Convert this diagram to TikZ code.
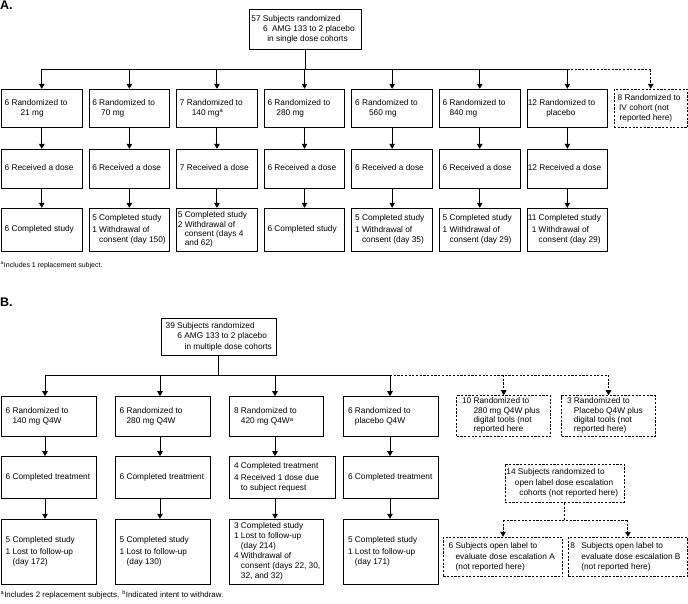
\documentclass[tikz,border=0pt]{standalone}
\usepackage{fontspec}
\setmainfont{Liberation Sans}
\usetikzlibrary{arrows.meta,fit}
\newcommand\mkbox[6]{\node[#2, fit={(#3,#4) (#5,#6)}] (#1) {};}
\newcommand\mktxt[3][3.5]{\node[txt] at ([xshift=#1pt]#2.west) {#3};}
\newcommand\mkttxt[3][3.5]{\node[txtt] at ([xshift=#1pt]#2.west) {#3};}
\newcommand\sa{\textsuperscript{a}}
\newcommand\tb[1]{\begin{tabular}{@{}r@{\ }l@{}}#1\end{tabular}}
\newcommand\tl[1]{\begin{tabular}{@{}l@{}}#1\end{tabular}}
\begin{document}
\begin{tikzpicture}[x=1pt,y=-1pt,
  bx/.style={draw, line width=1pt, inner sep=0pt},
  dbx/.style={bx, dash pattern=on 2.2pt off 1.5pt},
  txt/.style={anchor=west, inner sep=0pt, font=\fontsize{8.3}{10.3}\selectfont, align=left},
  txtt/.style={txt, font=\fontsize{8.3}{9.3}\selectfont},
  ln/.style={line width=1pt},
  dln/.style={ln, dash pattern=on 2.2pt off 1.5pt},
  arr/.style={ln, -{Triangle[width=5.5pt,length=5pt]}},
  darr/.style={dln, -{Triangle[width=5.5pt,length=5pt]}},
  lab/.style={anchor=north west, inner sep=0pt, font=\fontsize{12.5}{14}\selectfont\bfseries},
  fn/.style={anchor=west, inner sep=0pt, font=\fontsize{7}{9}\selectfont},
  fnb/.style={fn, font=\fontsize{7.9}{9}\selectfont}]
\useasboundingbox (0,0) rectangle (688,603);

% ---------------- Panel A ----------------
\node[lab] (labA) at (0,1) {A.};
\mkbox{at}{bx}{249}{9.3}{361}{49.3}
\mktxt[2.7]{at}{\tl{57 Subjects randomized\\ \hspace{11.6pt}6\hspace{4.5pt}AMG 133 to 2 placebo\\ \hspace{16pt}in single dose cohorts}}

% row 1
\mkbox{ra1}{bx}{1.5}{89.3}{82}{127.7}
\mkbox{ra2}{bx}{89.1}{89.3}{169.6}{127.7}
\mkbox{ra3}{bx}{176.7}{89.3}{257.2}{127.7}
\mkbox{ra4}{bx}{264.3}{89.3}{344.8}{127.7}
\mkbox{ra5}{bx}{351.9}{89.3}{432.4}{127.7}
\mkbox{ra6}{bx}{439.5}{89.3}{520}{127.7}
\mkbox{ra7}{bx}{527.1}{89.3}{607.6}{127.7}
\mkbox{iv}{dbx}{614}{89.3}{687.5}{127.7}
\mktxt{ra1}{\tb{6&Randomized to\\&\hspace{9pt}21 mg}}
\mktxt{ra2}{\tb{6&Randomized to\\&\hspace{2pt}70 mg}}
\mktxt{ra3}{\tb{7&Randomized to\\&\hspace{5pt}140 mg\sa}}
\mktxt{ra4}{\tb{6&Randomized to\\&\hspace{2pt}280 mg}}
\mktxt{ra5}{\tb{6&Randomized to\\&\hspace{7pt}560 mg}}
\mktxt{ra6}{\tb{6&Randomized to\\&840 mg}}
\mktxt[1]{ra7}{\tb{12&Randomized to\\&\hspace{7pt}placebo}}
\mktxt[4]{iv}{\tb{8&Randomized to\\&\hspace{-5.5pt}IV cohort (not\\&\hspace{-5pt}reported here)}}

% row 2
\mkbox{da1}{bx}{1.5}{149.3}{82}{188.3}
\mkbox{da2}{bx}{89.1}{149.3}{169.6}{188.3}
\mkbox{da3}{bx}{176.7}{149.3}{257.2}{188.3}
\mkbox{da4}{bx}{264.3}{149.3}{344.8}{188.3}
\mkbox{da5}{bx}{351.9}{149.3}{432.4}{188.3}
\mkbox{da6}{bx}{439.5}{149.3}{520}{188.3}
\mkbox{da7}{bx}{527.1}{149.3}{607.6}{188.3}
\mktxt{da1}{\tb{6&Received a dose}}
\mktxt{da2}{\tb{6&Received a dose}}
\mktxt{da3}{\tb{7&Received a dose}}
\mktxt{da4}{\tb{6&Received a dose}}
\mktxt{da5}{\tb{6&Received a dose}}
\mktxt{da6}{\tb{6&Received a dose}}
\mktxt[1]{da7}{\tb{12&Received a dose}}

% row 3
\mkbox{ca1}{bx}{1.5}{208.3}{82}{251}
\mkbox{ca2}{bx}{89.1}{208.3}{169.6}{251}
\mkbox{ca3}{bx}{176.7}{208.3}{257.2}{251}
\mkbox{ca4}{bx}{264.3}{208.3}{344.8}{251}
\mkbox{ca5}{bx}{351.9}{208.3}{432.4}{251}
\mkbox{ca6}{bx}{439.5}{208.3}{520}{251}
\mkbox{ca7}{bx}{527.1}{208.3}{607.6}{251}
\mktxt{ca1}{\tb{6&Completed study}}
\mktxt{ca2}{\tb{5&Completed study\\[1.5pt]1&Withdrawal of\\&consent (day 150)}}
\mkttxt[1.5]{ca3}{\tb{5&Completed study\\[1pt]2&Withdrawal of\\&consent (days 4\\&and 62)}}
\mktxt{ca4}{\tb{6&Completed study}}
\mktxt{ca5}{\tb{5&Completed study\\[1.5pt]1&Withdrawal of\\&consent (day 35)}}
\mktxt{ca6}{\tb{5&Completed study\\[1.5pt]1&Withdrawal of\\&consent (day 29)}}
\mktxt[1]{ca7}{\tb{11&Completed study\\[1.5pt]1&Withdrawal of\\&consent (day 29)}}

% connectors A
\coordinate (busA) at (0,69.3);
\draw[ln] (at.south) -- (at.south |- busA);
\draw[ln] (ra1.north |- busA) -- (ra7.north |- busA);
\foreach \i in {1,...,7} {
  \draw[arr] (ra\i.north |- busA) -- (ra\i.north);
  \draw[arr] (ra\i.south) -- (da\i.north);
  \draw[arr] (da\i.south) -- (ca\i.north);
}
\draw[dln] (ra7.north |- busA) -- (iv.north |- busA);
\draw[darr] (iv.north |- busA) -- (iv.north);

\node[fn] (fnA) at (0.5,265) {\textsuperscript{a}Includes 1 replacement subject.};

% ---------------- Panel B ----------------
\node[lab] (labB) at (0,297.3) {B.};
\mkbox{bt}{bx}{161}{318.3}{276.7}{355}
\mktxt[5]{bt}{\tl{39 Subjects randomized\\ \hspace{11.7pt}6\ AMG 133 to 2 placebo\\ \hspace{19pt}in multiple dose cohorts}}

\coordinate (xB1) at (45,0);
\coordinate (xB2) at (160,0);
\coordinate (xB3) at (275,0);
\coordinate (xB4) at (390,0);

% row 1
\mkbox{rb1}{bx}{1}{396.7}{96}{436.7}
\mkbox{rb2}{bx}{115}{396.7}{210}{436.7}
\mkbox{rb3}{bx}{229.3}{396.7}{323.3}{436.7}
\mkbox{rb4}{bx}{343.3}{396.7}{438.3}{436.7}
\mkbox{dg1}{dbx}{456.7}{395.7}{550.7}{436.2}
\mkbox{dg2}{dbx}{561.7}{395.7}{655.3}{436.2}
\mktxt[5]{rb1}{\tb{6&Randomized to\\&140 mg Q4W}}
\mktxt[5]{rb2}{\tb{6&Randomized to\\&280 mg Q4W}}
\mktxt[5]{rb3}{\tb{8&Randomized to\\&420 mg Q4W\sa}}
\mktxt[5]{rb4}{\tb{6&Randomized to\\&placebo Q4W}}
\mkttxt[5.6]{dg1}{\tb{10&Randomized to\\&280 mg Q4W plus\\&digital tools (not\\&reported here}}
\mkttxt[5.6]{dg2}{\tb{3&Randomized to\\&Placebo Q4W plus\\&digital tools (not\\&reported here)}}

% row 2
\mkbox{tb1}{bx}{1}{456.7}{96}{498.3}
\mkbox{tb2}{bx}{115}{456.7}{210}{498.3}
\mkbox{tb3}{bx}{229.3}{456.7}{335}{498.3}
\mkbox{tb4}{bx}{343.3}{456.7}{438.3}{498.3}
\mktxt[5]{tb1}{\tb{6&Completed treatment}}
\mktxt[5]{tb2}{\tb{6&Completed treatment}}
\mktxt[5]{tb3}{\tb{4&Completed treatment\\[1pt]4&Received 1 dose due\\&to subject request}}
\mktxt[5]{tb4}{\tb{6&Completed treatment}}

% row 3
\mkbox{cb1}{bx}{1}{519.3}{96}{584.3}
\mkbox{cb2}{bx}{115}{519.3}{210}{584.3}
\mkbox{cb3}{bx}{229.3}{519.3}{323.3}{584.3}
\mkbox{cb4}{bx}{343.3}{519.3}{438.3}{584.3}
\mktxt[5]{cb1}{\tb{5&Completed study\\[1.5pt]1&Lost to follow-up\\&(day 172)}}
\mktxt[5]{cb2}{\tb{5&Completed study\\[1.5pt]1&Lost to follow-up\\&(day 130)}}
\node[txt, font=\fontsize{8.3}{10}\selectfont] at ([xshift=5pt]cb3.west) {\tb{3&Completed study\\1&Lost to follow-up\\&(day 214)\\4&Withdrawal of\\&consent (days 22, 30,\\&32, and 32)}};
\mktxt[5]{cb4}{\tb{5&Completed study\\[1.5pt]1&Lost to follow-up\\&(day 171)}}

% open label part
\mkbox{ol}{dbx}{505}{464}{624}{502.3}
\mktxt[1.7]{ol}{\tl{14 Subjects randomized to\\ \hspace{8.5pt}open label dose escalation\\ \hspace{13pt}cohorts (not reported here)}}
\mkbox{ea}{dbx}{443.3}{537.3}{562.7}{576.7}
\mkbox{eb}{dbx}{568.3}{537.3}{687.5}{576.7}
\mktxt[5.7]{ea}{\tb{6&Subjects open label to\\&evaluate dose escalation A\\&(not reported here)}}
\mktxt[2.4]{eb}{\tb{8&\hspace{4pt}Subjects open label to\\&\hspace{4pt}evaluate dose escalation B\\&\hspace{4pt}(not reported here)}}

% connectors B
\coordinate (busB) at (0,375);
\draw[ln] (bt.south) -- (bt.south |- busB);
\draw[ln] (xB1 |- busB) -- (xB4 |- busB);
\draw[dln] (xB4 |- busB) -- (dg2.north |- busB);
\draw[darr] (dg1.north |- busB) -- (dg1.north);
\draw[darr] (dg2.north |- busB) -- (dg2.north);
\foreach \i in {1,...,4} {
  \draw[arr] (xB\i |- busB) -- (rb\i.north -| xB\i);
  \draw[arr] (rb\i.south -| xB\i) -- (tb\i.north -| xB\i);
  \draw[arr] (tb\i.south -| xB\i) -- (cb\i.north -| xB\i);
}
\coordinate (busE) at (0,520);
\draw[dln] (ol.south) -- (ol.south |- busE);
\draw[dln] (ea.north |- busE) -- (eb.north |- busE);
\draw[darr] (ea.north |- busE) -- (ea.north);
\draw[darr] (eb.north |- busE) -- (eb.north);

\node[fnb] (fnB) at (0.5,595) {\textsuperscript{a}Includes 2 replacement subjects. \textsuperscript{b}Indicated intent to withdraw.};
\end{tikzpicture}
\end{document}
